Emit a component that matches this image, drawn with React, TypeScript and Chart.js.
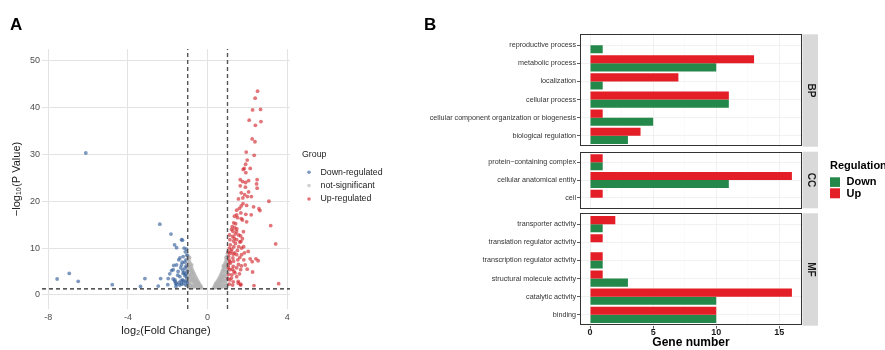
import React, { useEffect, useRef } from 'react';
import { Chart, registerables } from 'chart.js';

Chart.register(...registerables);

const FONT = '"Liberation Sans", Arial, Helvetica, sans-serif';
Chart.defaults.font.family = FONT;

// ---------------- Panel A: volcano plot ----------------
const xTicksA = [-8, -4, 0, 4];
const yTicksA = [0, 10, 20, 30, 40, 50];
const groupLabels = ['Down-regulated', 'not-significant', 'Up-regulated'];
const fcCutoffs = [-1, 1];
const pCutoff = 1.3;

const downPoints: [number, number][] = [
  [-6.12, 30.3], [-7.56, 3.4], [-6.95, 4.6], [-6.5, 2.9], [-4.79, 2.2], [-3.37, 1.8], [-3.15, 3.5],
  [-2.48, 1.9], [-2.36, 3.5], [-2.4, 15.1], [-1.84, 13.0], [-1.98, 3.5], [-1.66, 10.7], [-1.56, 10.1],
  [-1.81, 5.2], [-1.73, 3.4], [-1.64, 2.9], [-1.59, 1.8], [-1.26, 11.7], [-1.18, 10.0], [-1.39, 7.9],
  [-1.23, 8.2], [-1.09, 7.5], [-1.31, 6.4], [-1.56, 6.4], [-1.14, 5.7], [-1.73, 5.4], [-1.48, 5.0],
  [-1.23, 4.6], [-1.14, 4.1], [-1.39, 3.9], [-1.64, 3.2], [-1.26, 3.2], [-1.09, 2.9], [-1.56, 2.3],
  [-1.31, 2.3], [-1.09, 2.1], [-1.43, 2.7], [-1.31, 11.8], [-1.05, 3.6], [-1.02, 5.0], [-1.08, 6.2],
  [-1.04, 8.5], [-1.15, 7.0], [-1.2, 3.0], [-1.25, 5.3], [-1.12, 9.2], [-1.35, 5.8], [-1.45, 7.5],
  [-1.5, 4.2], [-1.6, 2.5], [-1.7, 6.3], [-1.22, 2.4], [-1.18, 4.8], [-1.9, 4.5], [-2.0, 2.2],
  [-1.03, 2.6], [-1.1, 4.4], [-1.28, 7.0], [-1.06, 9.8], [-1.4, 2.1], [-1.33, 3.0],
];

const nsPoints: [number, number][] = [
  [0.3, 1.5], [0.35, 1.8], [0.38, 2.2], [0.4, 1.6], [0.42, 2.5], [0.45, 2.0], [0.48, 2.8], [0.5, 1.7],
  [0.52, 3.1], [0.55, 2.4], [0.57, 3.5], [0.6, 1.9], [0.6, 2.9], [0.62, 3.8], [0.65, 2.3], [0.66, 4.2],
  [0.68, 3.3], [0.7, 1.6], [0.7, 4.6], [0.72, 2.7], [0.74, 5.0], [0.75, 3.8], [0.77, 2.1], [0.78, 5.5],
  [0.8, 4.3], [0.8, 3.0], [0.82, 6.0], [0.83, 1.8], [0.85, 5.0], [0.86, 6.5], [0.87, 3.6], [0.88, 2.5],
  [0.9, 7.0], [0.9, 4.4], [0.92, 5.8], [0.93, 1.6], [0.94, 7.6], [0.95, 3.2], [0.96, 6.4], [0.97, 8.2],
  [0.98, 4.9], [0.99, 2.2], [1.0, 8.8], [1.0, 7.0], [0.99, 5.6], [0.97, 3.9], [0.93, 8.0], [0.89, 6.1],
  [0.84, 4.0], [0.79, 6.2], [0.73, 4.0], [0.67, 3.0], [0.58, 2.7], [0.47, 2.3], [0.37, 1.6],
  [0.91, 3.0], [0.86, 2.0], [0.76, 3.2], [0.64, 1.8], [0.55, 1.6], [0.71, 3.6], [0.81, 5.2],
  [-0.3, 1.5], [-0.34, 1.9], [-0.37, 1.6], [-0.4, 2.3], [-0.43, 1.8], [-0.46, 2.7], [-0.49, 2.1],
  [-0.5, 3.0], [-0.53, 1.7], [-0.55, 3.4], [-0.57, 2.5], [-0.6, 3.8], [-0.61, 2.0], [-0.63, 3.0],
  [-0.65, 4.2], [-0.67, 2.4], [-0.69, 4.6], [-0.7, 3.4], [-0.72, 1.7], [-0.73, 5.0], [-0.75, 2.8],
  [-0.76, 4.0], [-0.78, 5.5], [-0.79, 2.0], [-0.8, 4.6], [-0.82, 6.0], [-0.83, 3.2], [-0.85, 5.2],
  [-0.86, 1.8], [-0.87, 6.5], [-0.88, 4.0], [-0.9, 2.6], [-0.9, 7.0], [-0.92, 5.6], [-0.93, 3.5],
  [-0.94, 7.5], [-0.95, 1.6], [-0.96, 6.2], [-0.97, 4.5], [-0.98, 8.0], [-0.99, 2.9], [-1.0, 8.5],
  [-1.0, 6.8], [-0.99, 5.3], [-0.97, 3.8], [-0.95, 2.2], [-0.91, 8.0], [-0.89, 6.0], [-0.84, 4.3],
  [-0.8, 6.4], [-0.74, 3.6], [-0.68, 3.0], [-0.59, 2.8], [-0.47, 2.4], [-0.36, 1.7], [-1.03, 2.0],
  [-1.02, 4.0], [-1.04, 6.0], [-0.91, 3.1], [-0.86, 2.1], [-0.77, 3.3], [-0.64, 1.8], [-0.81, 5.0],
];

const upPoints: [number, number][] = [
  [2.51, 43.5], [2.39, 42.0], [2.26, 39.5], [2.66, 39.6], [2.09, 37.3], [2.68, 37.0], [2.4, 36.2],
  [2.24, 33.3], [2.38, 32.7], [1.94, 30.5], [2.34, 29.8], [1.99, 28.8], [1.91, 27.9], [2.14, 27.0],
  [1.79, 26.8], [1.84, 27.0], [1.92, 26.1], [1.64, 24.6], [1.76, 24.2], [1.91, 24.0], [2.06, 24.4],
  [2.49, 24.6], [2.46, 23.7], [2.49, 22.8], [1.64, 23.3], [2.06, 22.0], [1.69, 21.8], [1.86, 21.4],
  [1.77, 20.7], [3.08, 20.0], [1.69, 19.0], [1.96, 19.1], [2.31, 18.8], [2.58, 18.4], [2.63, 18.0],
  [1.46, 18.1], [1.67, 17.5], [1.92, 17.2], [1.46, 17.1], [2.19, 17.1], [1.69, 16.3], [1.96, 15.6],
  [3.17, 14.8], [3.42, 10.9], [3.57, 2.4], [2.33, 2.0], [2.14, 7.7], [2.43, 7.7], [2.24, 7.1],
  [1.82, 7.5], [1.89, 6.4], [2.26, 4.9], [1.99, 5.5], [1.66, 5.4], [1.71, 8.6], [1.81, 10.3],
  [1.67, 11.4], [1.54, 2.9], [1.66, 2.1], [2.54, 7.3], [2.04, 9.3],
  [1.31, 15.4], [1.41, 15.2], [1.24, 14.6], [1.37, 14.3], [1.47, 14.1], [1.27, 13.6], [1.39, 13.0],
  [1.56, 12.8], [1.66, 12.6], [1.26, 12.5], [1.34, 12.1], [1.12, 11.8], [1.46, 11.8], [1.62, 11.3],
  [1.14, 10.7], [1.32, 10.3], [1.56, 10.3], [1.09, 10.0], [1.22, 9.8], [1.71, 10.0], [1.12, 8.9],
  [1.29, 8.7], [1.46, 8.6], [1.06, 8.2], [1.27, 7.9], [1.52, 7.5], [1.12, 7.1], [1.04, 6.4],
  [1.29, 6.1], [1.46, 5.8], [1.12, 5.4], [1.32, 5.0], [1.06, 4.4], [1.22, 4.3], [1.46, 3.9],
  [1.12, 3.2], [1.29, 2.8], [1.54, 2.5], [1.67, 2.3], [1.09, 2.3], [1.26, 2.1],
  [1.02, 3.5], [1.05, 5.8], [1.08, 7.5], [1.03, 9.2], [1.15, 6.8], [1.18, 9.3], [1.2, 3.6],
  [1.25, 5.5], [1.3, 7.2], [1.35, 9.0], [1.38, 4.7], [1.4, 11.0], [1.1, 12.8], [1.2, 14.0],
  [1.3, 11.5], [1.45, 13.5], [1.5, 9.5], [1.55, 6.5], [1.6, 4.5], [1.62, 8.0], [1.7, 6.2],
  [1.75, 12.0], [1.8, 13.5], [1.85, 9.0], [1.75, 16.0], [1.6, 18.5], [1.78, 19.5], [2.0, 21.0],
  [1.9, 23.0], [2.2, 21.0], [1.55, 20.5], [1.5, 16.5], [1.35, 16.8],
];

// ---------------- Panel B: GO classification ----------------
const bpTerms = ['reproductive process', 'metabolic process', 'localization', 'cellular process',
  'cellular component organization or biogenesis', 'biological regulation'];
const bpUp = [0, 13, 7, 11, 1, 4];
const bpDown = [1, 10, 1, 11, 5, 3];

const ccTerms = ['protein\u2212containing complex', 'cellular anatomical entity', 'cell'];
const ccUp = [1, 16, 1];
const ccDown = [1, 11, 0];

const mfTerms = ['transporter activity', 'translation regulator activity', 'transcription regulator activity',
  'structural molecule activity', 'catalytic activity', 'binding'];
const mfUp = [2, 1, 1, 1, 16, 10];
const mfDown = [1, 0, 1, 3, 10, 10];

const xTicksB = [0, 5, 10, 15];
const xGridB = [0, 2.5, 5, 7.5, 10, 12.5, 15];
const regulationLabels = ['Down', 'Up'];

const COL_DOWN_PT = 'rgba(45,88,150,0.62)';
const COL_NS_PT = 'rgba(178,178,178,0.8)';
const COL_UP_PT = 'rgba(208,32,38,0.62)';
const COL_GREEN = '#24884A';
const COL_RED = '#E41E26';

const xMinA = -8.32, xMaxA = 4.14, yMinA = -3, yMaxA = 52.5;

function makeVolcano(canvas: HTMLCanvasElement) {
  const toXY = (a: [number, number][]) => a.map(([x, y]) => ({ x, y }));
  const legendPlugin = {
    id: 'volcanoLegend',
    afterDraw(chart: any) {
      const ctx = chart.ctx;
      ctx.save();
      ctx.fillStyle = '#000';
      ctx.font = `bold 17px ${FONT}`;
      ctx.textBaseline = 'alphabetic';
      ctx.textAlign = 'left';
      ctx.fillText('A', 10, 30);
      ctx.font = `8.8px ${FONT}`;
      ctx.fillStyle = '#222';
      ctx.textBaseline = 'middle';
      ctx.fillText('Group', 302, 155);
      const cols = [COL_DOWN_PT, 'rgba(190,190,190,0.7)', COL_UP_PT];
      const ys = [172.3, 185.6, 199];
      groupLabels.forEach((lab, i) => {
        ctx.fillStyle = cols[i];
        ctx.beginPath();
        ctx.arc(309, ys[i], 1.8, 0, Math.PI * 2);
        ctx.fill();
        ctx.fillStyle = '#222';
        ctx.fillText(lab, 320.5, ys[i]);
      });
      ctx.restore();
    },
  };
  const dash = { borderDash: [4, 3], pointRadius: 0, showLine: true, fill: false, order: 0 };
  return new Chart(canvas, {
    type: 'scatter',
    data: {
      datasets: [
        { ...dash, data: [{ x: fcCutoffs[0], y: yMinA }, { x: fcCutoffs[0], y: yMaxA }], borderColor: '#555', borderWidth: 1.4 },
        { ...dash, data: [{ x: fcCutoffs[1], y: yMinA }, { x: fcCutoffs[1], y: yMaxA }], borderColor: '#555', borderWidth: 1.4 },
        { ...dash, data: [{ x: xMinA, y: pCutoff }, { x: xMaxA, y: pCutoff }], borderColor: '#222', borderWidth: 1.2 },
        { label: groupLabels[1], data: toXY(nsPoints), backgroundColor: COL_NS_PT, borderWidth: 0, pointRadius: 1.9, order: 3 },
        { label: groupLabels[0], data: toXY(downPoints), backgroundColor: COL_DOWN_PT, borderWidth: 0, pointRadius: 1.9, order: 2 },
        { label: groupLabels[2], data: toXY(upPoints), backgroundColor: COL_UP_PT, borderWidth: 0, pointRadius: 1.9, order: 1 },
      ] as any,
    },
    options: {
      animation: false,
      responsive: false,
      events: [],
      layout: { padding: { left: 0, right: 130, top: 49, bottom: 0 } },
      plugins: { legend: { display: false }, tooltip: { enabled: false } },
      scales: {
        x: {
          type: 'linear', min: xMinA, max: xMaxA,
          afterBuildTicks: (s: any) => { s.ticks = xTicksA.map((v) => ({ value: v })); },
          afterFit: (s: any) => { s.height = 41; },
          grid: { color: '#E3E3E3', lineWidth: 1, drawTicks: false },
          border: { display: false },
          ticks: { font: { size: 9 }, color: '#4D4D4D', padding: 3, maxRotation: 0, autoSkip: false },
          title: { display: true, text: 'log\u2082(Fold Change)', font: { size: 11 }, color: '#1A1A1A', padding: { top: 0, bottom: 12 } },
        },
        y: {
          type: 'linear', min: yMinA, max: yMaxA,
          afterBuildTicks: (s: any) => { s.ticks = yTicksA.map((v) => ({ value: v })); },
          afterFit: (s: any) => { s.width = 42; },
          grid: { color: '#E3E3E3', lineWidth: 1, drawTicks: false },
          border: { display: false },
          ticks: { font: { size: 9 }, color: '#4D4D4D', padding: 2, autoSkip: false },
          title: { display: true, text: '\u2212log\u2081\u2080(P Value)', font: { size: 11 }, color: '#1A1A1A', padding: { top: 10, bottom: 0 } },
        },
      },
    } as any,
    plugins: [legendPlugin],
  });
}

type FacetCfg = {
  terms: string[]; up: number[]; down: number[]; strip: string;
  top: number; bottom: number; showX: boolean; extra?: (ctx: CanvasRenderingContext2D) => void;
};

function makeFacet(canvas: HTMLCanvasElement, cfg: FacetCfg) {
  const n = cfg.terms.length;
  const pts = (vals: number[]) => vals.map((v, i) => ({ x: v, y: i + 1 })).filter((p) => p.x > 0);
  const facetPlugin = {
    id: 'facetDeco',
    afterDraw(chart: any) {
      const ctx: CanvasRenderingContext2D = chart.ctx;
      const a = chart.chartArea;
      ctx.save();
      ctx.strokeStyle = '#333';
      ctx.lineWidth = 1;
      ctx.strokeRect(Math.round(a.left) + 0.5, Math.round(a.top) + 0.5, Math.round(a.right - a.left) - 1, Math.round(a.bottom - a.top) - 1);
      ctx.fillStyle = '#D9D9D9';
      ctx.fillRect(a.right + 0.5, a.top, 15.5, a.bottom - a.top);
      ctx.fillStyle = '#1A1A1A';
      ctx.font = `bold 10px ${FONT}`;
      ctx.textAlign = 'center';
      ctx.textBaseline = 'middle';
      ctx.translate(a.right + 8.5, (a.top + a.bottom) / 2);
      ctx.rotate(Math.PI / 2);
      ctx.fillText(cfg.strip, 0, 0);
      ctx.restore();
      if (cfg.extra) { ctx.save(); cfg.extra(ctx); ctx.restore(); }
    },
  };
  return new Chart(canvas, {
    type: 'bar',
    data: {
      datasets: [
        { label: regulationLabels[1], data: pts(cfg.up), backgroundColor: COL_RED, borderWidth: 0 },
        { label: regulationLabels[0], data: pts(cfg.down), backgroundColor: COL_GREEN, borderWidth: 0 },
      ] as any,
    },
    options: {
      animation: false,
      responsive: false,
      events: [],
      indexAxis: 'y',
      datasets: { bar: { categoryPercentage: 0.9, barPercentage: 1.0 } },
      layout: { padding: { left: 0, right: 83, top: cfg.top, bottom: cfg.showX ? 0 : 350 - cfg.bottom } },
      plugins: { legend: { display: false }, tooltip: { enabled: false } },
      scales: {
        y: {
          type: 'linear', reverse: true, min: 0.4, max: n + 0.6, offset: false,
          afterBuildTicks: (s: any) => { s.ticks = cfg.terms.map((_, i) => ({ value: i + 1 })); },
          afterFit: (s: any) => { s.width = 160; },
          ticks: { callback: (_v: any, i: number) => cfg.terms[i], font: { size: 7.2 }, color: '#333', padding: 1, autoSkip: false },
          grid: { offset: false, color: '#EDEDED', lineWidth: 0.8, drawTicks: true, tickLength: 3, tickColor: '#333' },
          border: { display: false },
        },
        x: {
          type: 'linear', min: -0.8, max: 16.8,
          afterBuildTicks: (s: any) => { s.ticks = xGridB.map((v) => ({ value: v })); },
          afterFit: (s: any) => { s.height = cfg.showX ? 350 - cfg.bottom : 0; },
          ticks: {
            display: cfg.showX, autoSkip: false, maxRotation: 0, padding: -1.5,
            callback: (v: any) => (xTicksB.includes(v) ? String(v) : ''),
            font: { size: 9, weight: 'bold' }, color: '#1A1A1A',
          },
          grid: {
            color: (c: any) => (xTicksB.includes(c.tick?.value) ? '#EDEDED' : '#F5F5F5'),
            lineWidth: (c: any) => (xTicksB.includes(c.tick?.value) ? 0.8 : 0.5),
            drawTicks: cfg.showX, tickLength: 3,
            tickColor: (c: any) => (xTicksB.includes(c.tick?.value) ? '#333' : 'rgba(0,0,0,0)'),
          },
          border: { display: false },
          title: { display: cfg.showX, text: 'Gene number', font: { size: 12, weight: 'bold' }, color: '#000', padding: { top: 0, bottom: 0 } },
        },
      },
    } as any,
    plugins: [facetPlugin],
  });
}

function drawBLetter(ctx: CanvasRenderingContext2D) {
  ctx.fillStyle = '#000';
  ctx.font = `bold 17px ${FONT}`;
  ctx.textAlign = 'left';
  ctx.textBaseline = 'alphabetic';
  ctx.fillText('B', 4, 30);
}

function drawRegLegend(ctx: CanvasRenderingContext2D) {
  const ox = -420;
  ctx.fillStyle = '#000';
  ctx.font = `bold 11px ${FONT}`;
  ctx.textAlign = 'left';
  ctx.textBaseline = 'middle';
  ctx.fillText('Regulation', 830 + ox, 166);
  ctx.fillStyle = COL_GREEN;
  ctx.fillRect(830 + ox, 177.3, 10, 9.6);
  ctx.fillStyle = COL_RED;
  ctx.fillRect(830 + ox, 188.3, 10, 10);
  ctx.fillStyle = '#000';
  ctx.fillText(regulationLabels[0], 846.5 + ox, 182.2);
  ctx.fillText(regulationLabels[1], 846.5 + ox, 193.5);
}

export default function App() {
  const aRef = useRef<HTMLCanvasElement>(null);
  const bpRef = useRef<HTMLCanvasElement>(null);
  const ccRef = useRef<HTMLCanvasElement>(null);
  const mfRef = useRef<HTMLCanvasElement>(null);

  useEffect(() => {
    const charts = [
      makeVolcano(aRef.current!),
      makeFacet(bpRef.current!, { terms: bpTerms, up: bpUp, down: bpDown, strip: 'BP', top: 34.3, bottom: 146.7, showX: false, extra: drawBLetter }),
      makeFacet(ccRef.current!, { terms: ccTerms, up: ccUp, down: ccDown, strip: 'CC', top: 151.7, bottom: 208.3, showX: false, extra: drawRegLegend }),
      makeFacet(mfRef.current!, { terms: mfTerms, up: mfUp, down: mfDown, strip: 'MF', top: 213.3, bottom: 325.7, showX: true }),
    ];
    return () => charts.forEach((c) => c.destroy());
  }, []);

  const cs: React.CSSProperties = { position: 'absolute', top: 0, display: 'block' };
  return (
    <div style={{ position: 'absolute', left: 0, top: 0, width: 885, height: 350, overflow: 'hidden', background: '#fff' }}>
      <canvas ref={aRef} width={420} height={350} style={{ ...cs, left: 0 }} />
      <canvas ref={bpRef} width={465} height={350} style={{ ...cs, left: 420 }} />
      <canvas ref={ccRef} width={465} height={350} style={{ ...cs, left: 420 }} />
      <canvas ref={mfRef} width={465} height={350} style={{ ...cs, left: 420 }} />
    </div>
  );
}
